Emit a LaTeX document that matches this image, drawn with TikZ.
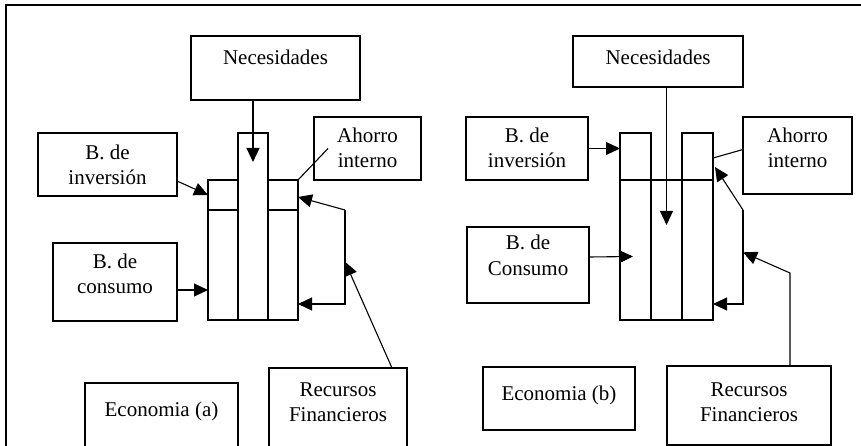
\documentclass[tikz,border=0pt]{standalone}
\usepackage{fontspec}
\setmainfont{Liberation Serif}
\usetikzlibrary{arrows.meta, calc}
\tikzstyle{entry} = [draw=black, outer sep=0, inner sep=0, anchor=north west,
    line width=1.1, font=\fontsize{21}{25}\selectfont, align=center]
\tikzstyle{tank} = [draw=black, outer sep=0, inner sep=0, anchor=north west,
    line width=1.1]
\tikzstyle{flow} = [line width=1.1, -{Triangle[length=14pt, width=13pt]}]
\tikzstyle{plain} = [line width=1.1]
\begin{document}
\begin{tikzpicture}[x=1pt, y=-1pt]
\useasboundingbox (0,0) rectangle (861,446);
\clip (0,0) rectangle (861,446);

\draw[plain] (6,446) -- (6,5) -- (861,5);

%%% economia (a)
\node[entry, minimum width=169, text height=29, text depth=35] (necA) at (191,36) {\begin{tabular}[t]{c} Necesidades \end{tabular}};
\node[entry, minimum width=139, text height=27, text depth=36] (invA) at (38,133) {\begin{tabular}[t]{c} B. de \\ inversión \end{tabular}};
\node[entry, minimum width=124, text height=25, text depth=53] (conA) at (53,243) {\begin{tabular}[t]{c} B. de \\ consumo \end{tabular}};
\node[entry, minimum width=107, text height=26, text depth=37] (ahoA) at (314,117) {\begin{tabular}[t]{c} Ahorro \\ interno \end{tabular}};
\node[entry, minimum width=138, text height=28, text depth=64] (recA) at (269,368) {\begin{tabular}[t]{c} Recursos \\ Financieros \end{tabular}};
\node[entry, minimum width=153, text height=33, text depth=44] (ecoA) at (85,383) {\begin{tabular}[t]{c} Economia (a) \end{tabular}};

\node[tank, minimum width=90, minimum height=140] (tankA) at (208,180) {};
\draw[plain] ($(tankA.north west)+(0,30)$) -- ($(tankA.north east)+(0,30)$);
\node[tank, fill=white, minimum width=30, minimum height=187] (colA) at (238,133) {};

\coordinate (topA) at (345,210);
\coordinate (botA) at (345,304);

\draw[flow] (colA.north |- necA.south) -- ($(colA.north)+(0,29)$);
\draw[flow] ($(invA.south east)+(0,-15)$) -- ($(tankA.north west)+(0,15)$);
\draw[flow] ($(conA.east)+(0,8)$) -- ($(tankA.west)+(0,40)$);
\draw[plain] (tankA.north east) -- ($(ahoA.west)+(14,0)$);
\draw[flow] (topA) -- ($(tankA.north east)+(0,17)$);
\draw[flow] (topA) -- (botA) -- (botA -| tankA.east);
\draw[flow] ($(recA.north west)+(123,0)$) -- ($(topA)!0.55!(botA)$);

%%% economia (b)
\node[entry, minimum width=170, text height=29, text depth=22] (necB) at (573,36) {\begin{tabular}[t]{c} Necesidades \end{tabular}};
\node[entry, minimum width=122, text height=26, text depth=37] (invB) at (466,117) {\begin{tabular}[t]{c} B. de \\ inversión \end{tabular}};
\node[entry, minimum width=122, text height=23, text depth=53] (conB) at (467,227) {\begin{tabular}[t]{c} B. de \\ Consumo \end{tabular}};
\node[entry, minimum width=109, text height=26, text depth=51] (ahoB) at (743,117) {\begin{tabular}[t]{c} Ahorro \\ interno \end{tabular}};
\node[entry, minimum width=164, text height=30, text depth=49] (recB) at (667,366) {\begin{tabular}[t]{c} Recursos \\ Financieros \end{tabular}};
\node[entry, minimum width=152, text height=33, text depth=30] (ecoB) at (483,367) {\begin{tabular}[t]{c} Economia (b) \end{tabular}};

\node[tank, minimum width=93, minimum height=140] (tankB) at (620,180) {};
\node[tank, minimum width=31, minimum height=187] (colB1) at (620,133) {};
\node[tank, minimum width=31, minimum height=187] (colB2) at (682,133) {};

\coordinate (topB) at (743,210);
\coordinate (botB) at (743,304);

\draw[flow] (tankB.north |- necB.south) -- ($(tankB.north)+(0,45)$);
\draw[flow] (invB.east) -- (invB.east -| colB1.west);
\draw[flow] ($(conB.east)+(0,-8)$) -- ($(colB1.west)+(13,30)$);
\draw[plain] ($(ahoB.west)+(0,-6)$) -- ($(colB2.north east)+(0,25)$);
\draw[flow] (topB) -- ($(colB2.north east)+(2,34)$);
\draw[flow] (topB) -- (botB) -- (botB -| colB2.east);
\draw[flow] ($(recB.north west)+(123,0)$) -- ++(0,-93) -- ($(topB)!0.45!(botB)$);

\end{tikzpicture}
\end{document}
